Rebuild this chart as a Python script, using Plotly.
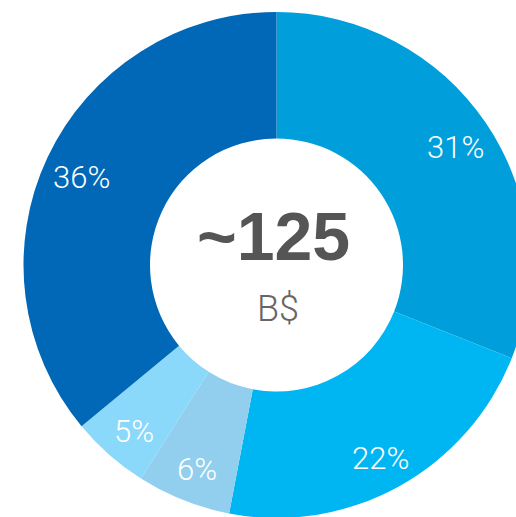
import numpy as np
import plotly.graph_objects as go

# Share of the ~125 B$ total, clockwise from 12 o'clock
segments = ["Segment A", "Segment B", "Segment C", "Segment D", "Segment E"]
shares = [31, 22, 6, 5, 36]
colors = ["#009fdb", "#00b6f2", "#92cfef", "#8ad8fa", "#0068b7"]

total_label = "~125"
unit_label = "B$"

W, H = 530, 518
R = 253            # outer radius in px
CX, CY = W - R - 0.5, R + 12
HOLE = 0.5
LABEL_R = 216      # radius of percentage labels in px
LABEL_DY = 4       # nudge so the digits, not the text box, sit on the radius

fig = go.Figure(
    go.Pie(
        labels=segments,
        values=shares,
        hole=HOLE,
        sort=False,
        direction="clockwise",
        rotation=0,
        marker=dict(colors=colors, line=dict(width=0)),
        textinfo="none",
        hoverinfo="label+percent",
        domain=dict(x=[(CX - R) / W, (CX + R) / W], y=[(H - CY - R) / H, (H - CY + R) / H]),
        showlegend=False,
    )
)

# percentage labels at each slice's mid-angle
cum = np.cumsum([0] + shares)
tot = cum[-1]
annotations = []
for i, v in enumerate(shares):
    mid = (cum[i] + v / 2) / tot * 2 * np.pi
    px = CX + LABEL_R * np.sin(mid)
    py = CY - LABEL_R * np.cos(mid) + LABEL_DY
    annotations.append(dict(
        x=px / W, y=(H - py) / H, xref="paper", yref="paper",
        text=f"{round(v / tot * 100)}%", showarrow=False,
        font=dict(family="Roboto", size=31, color="white", weight=300),
        xanchor="center", yanchor="middle",
    ))

annotations.append(dict(
    x=(CX - 3) / W, y=(H - 236) / H, xref="paper", yref="paper",
    text=total_label, showarrow=False,
    font=dict(family="Liberation Sans", size=68, color="#555555", weight="bold"),
    xanchor="center", yanchor="middle",
))
annotations.append(dict(
    x=(CX + 1) / W, y=(H - 309) / H, xref="paper", yref="paper",
    text=unit_label, showarrow=False,
    font=dict(family="Roboto", size=36, color="#666666", weight=300),
    xanchor="center", yanchor="middle",
))

fig.update_layout(
    width=W, height=H,
    margin=dict(l=0, r=0, t=0, b=0),
    paper_bgcolor="white",
    plot_bgcolor="white",
    annotations=annotations,
)

fig.write_html(
    "out.html",
    post_script="document.body.style.margin='0';document.body.style.overflow='hidden';",
)
